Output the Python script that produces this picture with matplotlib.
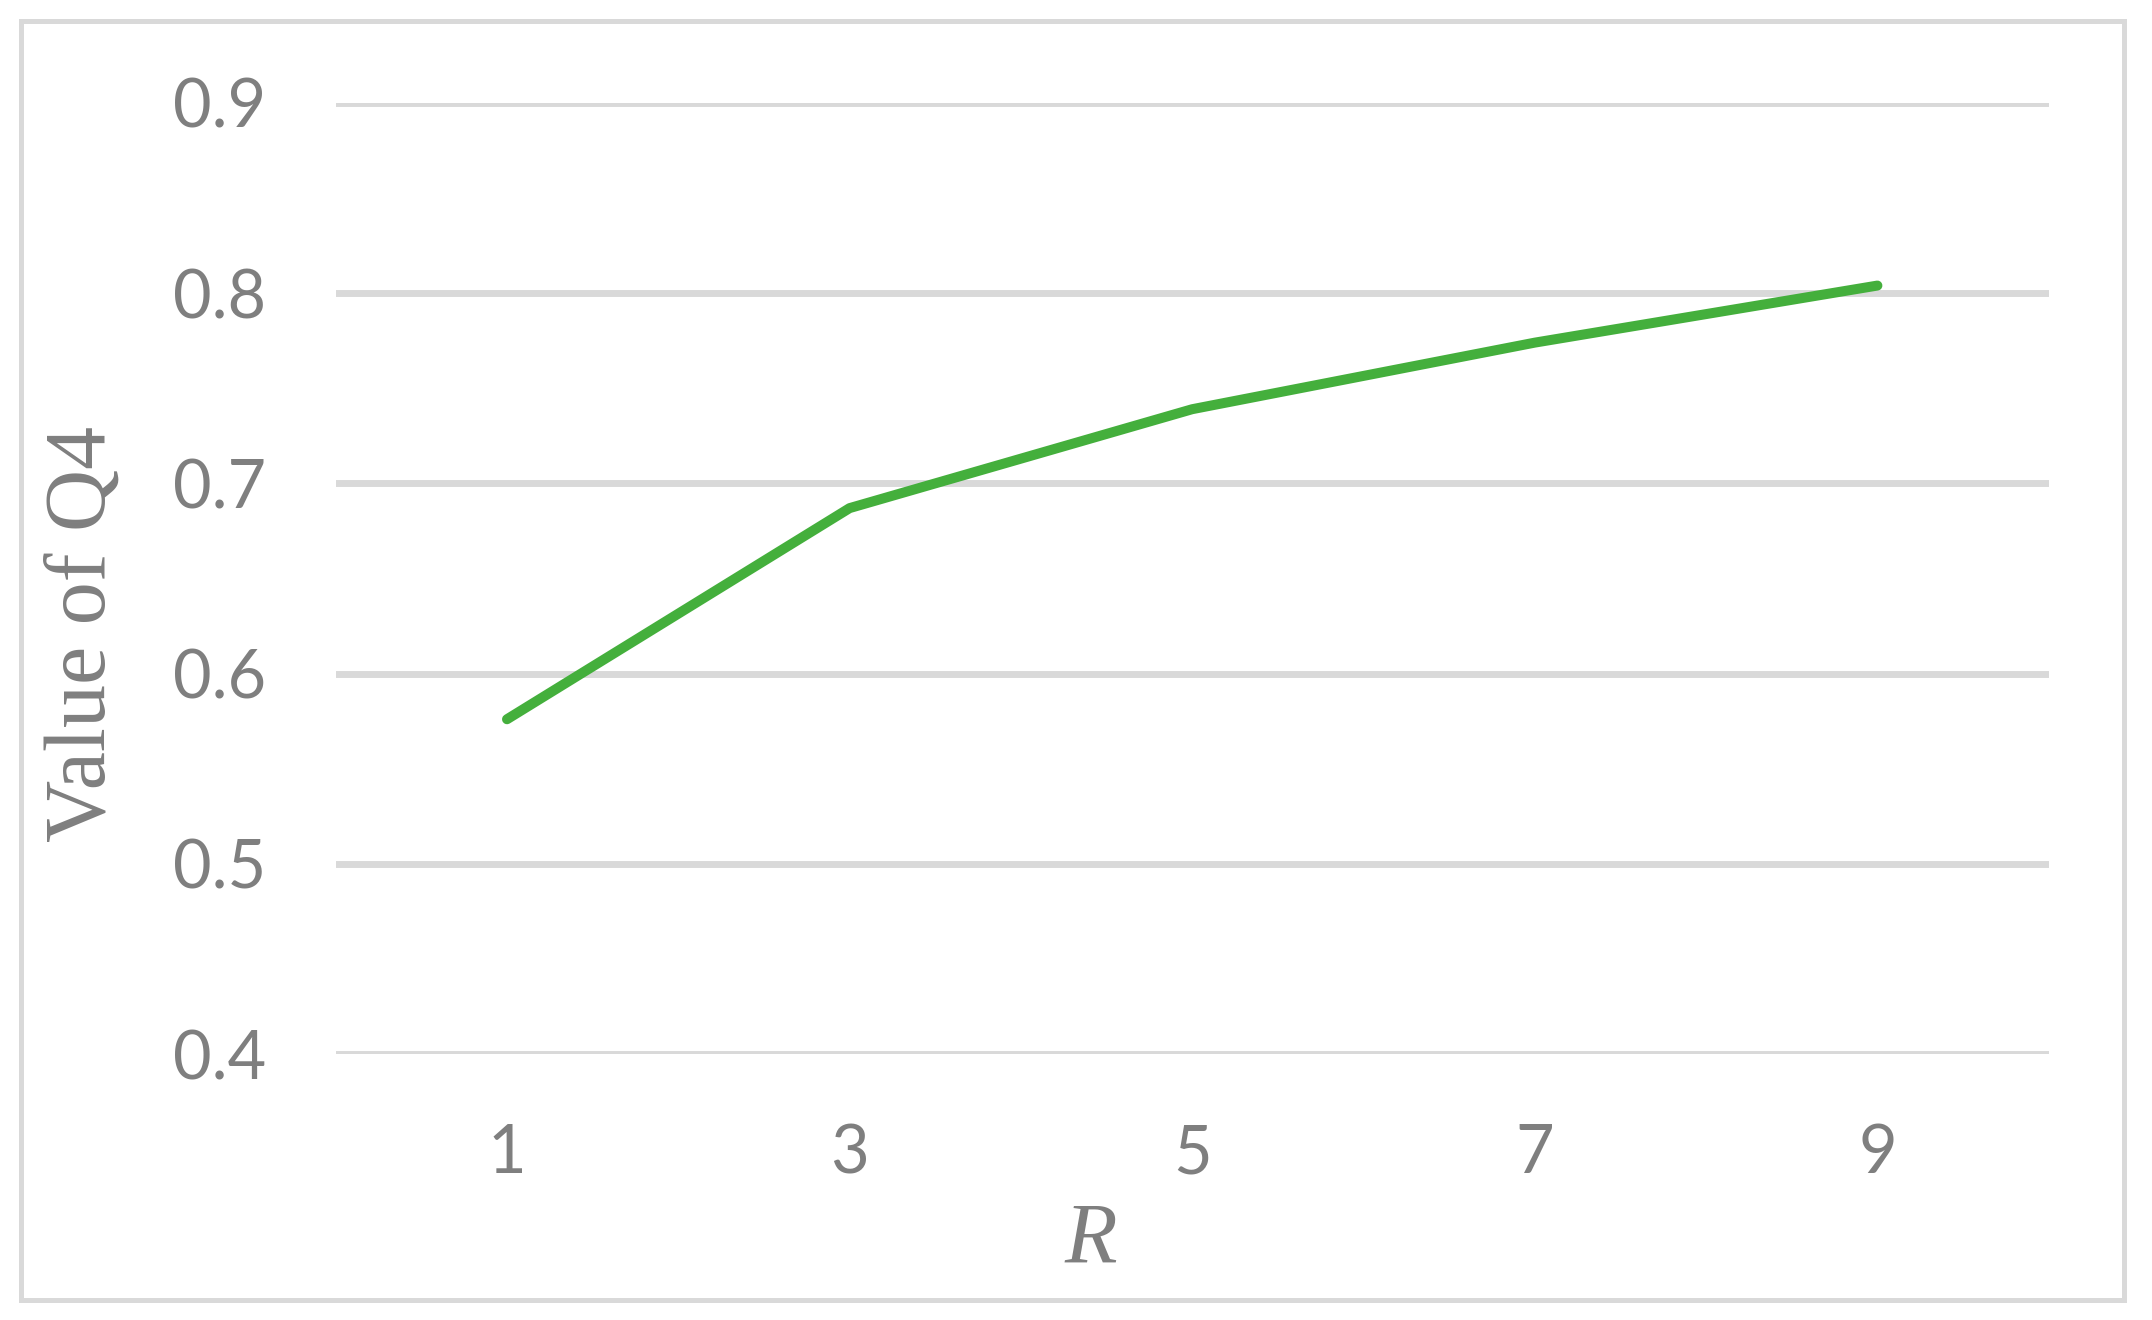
import matplotlib.pyplot as plt
from matplotlib.patches import Rectangle

# data
r_values = ['1', '3', '5', '7', '9']
q4_values = [0.576, 0.687, 0.739, 0.774, 0.804]
y_ticks = [0.4, 0.5, 0.6, 0.7, 0.8, 0.9]

grey_text = '#7f7f7f'
grid_grey = '#d9d9d9'
line_green = '#44af3c'

fig = plt.figure(figsize=(10.76, 6.6), dpi=200)
ax = fig.add_axes([0.156, 0.2015, 0.796, 0.7205])

x = list(range(len(r_values)))
ax.plot(x, q4_values, color=line_green, linewidth=3.6, solid_capstyle='round', zorder=3)

ax.set_xlim(-0.5, len(r_values) - 0.5)
ax.set_ylim(0.4, 0.9)
ax.set_xticks(x)
ax.set_xticklabels(r_values)
ax.set_yticks(y_ticks)
ax.set_yticklabels([f'{v:.1f}' for v in y_ticks])
ax.grid(axis='y', color=grid_grey, linewidth=2.5)
ax.set_axisbelow(True)
for side in ax.spines.values():
    side.set_visible(False)
ax.tick_params(length=0, pad=25, labelsize=24, labelcolor=grey_text)
for lbl in ax.get_xticklabels() + ax.get_yticklabels():
    lbl.set_fontfamily('Lato')

# axis titles (placed like the original, slightly off-centre)
fig.text(0.039, 0.52, 'Value of Q4', rotation=90, ha='center', va='center',
         fontsize=31, color=grey_text, family='Liberation Serif')
fig.text(0.507, 0.059, 'R', ha='center', va='center', fontsize=31,
         color=grey_text, family='Liberation Serif', style='italic')

# outer chart frame
fig.patches.append(Rectangle((0.0098, 0.0152), 0.977, 0.969, transform=fig.transFigure,
                             fill=False, edgecolor=grid_grey, linewidth=1.8))

fig.savefig('out.png', dpi=200)
